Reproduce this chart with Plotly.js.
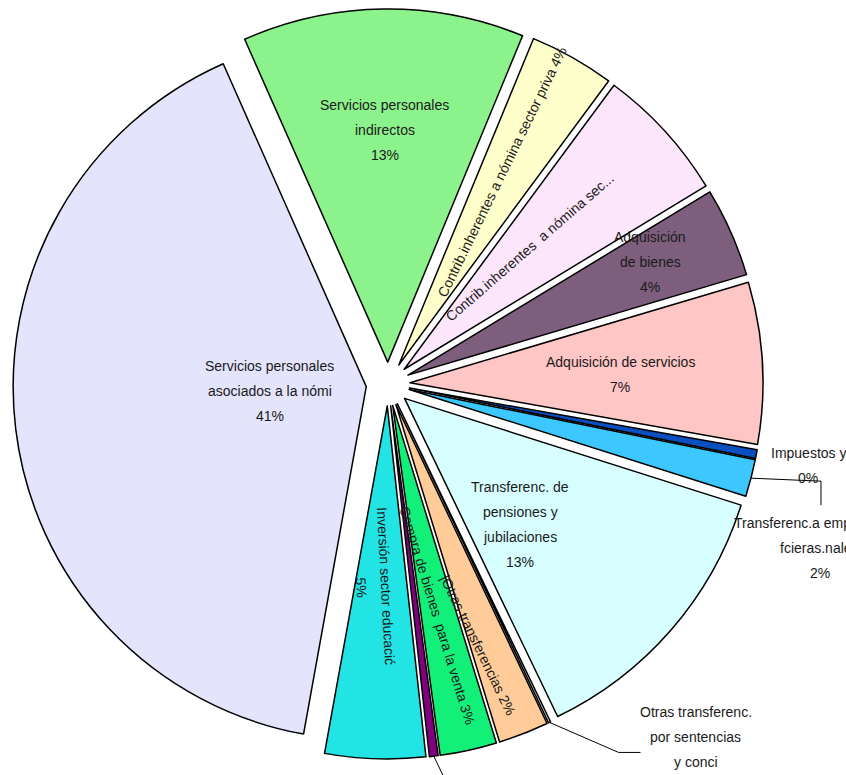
<!DOCTYPE html>
<html>
<head>
<meta charset="utf-8">
<script src="https://cdn.plot.ly/plotly-3.0.1.min.js"></script>
<style>
  html, body { margin: 0; padding: 0; background: #ffffff; }
  #chart { width: 846px; height: 775px; }
</style>
</head>
<body>
<div id="chart"></div>
<script>
// ---------------- DATA ----------------
const categories = [
  "Servicios personales indirectos",
  "Contrib.inherentes a nómina sector priva",
  "Contrib.inherentes a nómina sec...",
  "Adquisición de bienes",
  "Adquisición de servicios",
  "Impuestos y",
  "Transferenc.a empresas no fcieras.nales",
  "Transferenc. de pensiones y jubilaciones",
  "Otras transferenc. por sentencias y conci",
  "Otras transferencias",
  "Compra de bienes para la venta",
  "Otros",
  "Inversión sector educación",
  "Servicios personales asociados a la nómi"
];
const values = [12.9, 3.9, 6.2, 4.1, 7.4, 0.4, 1.7, 13.0, 0.1, 2.3, 2.6, 0.4, 4.6, 40.6];

// Text shown on the chart for each slice (lines)
const labelLines = [
  ["Servicios personales", "indirectos"],
  ["Contrib.inherentes a nómina sector priva"],
  ["Contrib.inherentes\u00a0 a nómina sec..."],
  ["Adquisición", "de bienes"],
  ["Adquisición de servicios"],
  ["Impuestos y"],
  ["Transferenc.a empresas no", "fcieras.nales"],
  ["Transferenc. de", "pensiones y", "jubilaciones"],
  ["Otras transferenc.", "por sentencias", "y conci"],
  ["|Otras transferencias"],
  ["Compra de bienes\u00a0 para la venta"],
  [],
  ["Inversión sector educacić"],
  ["Servicios personales", "asociados a la nómi"]
];

// ---------------- STYLE ----------------
const colors = ["#8cf28c", "#ffffcc", "#fbe6fb", "#7d5f7d", "#ffc6c6", "#0a4fc0",
                "#3cc8ff", "#d8ffff", "#ffffff", "#ffcc99", "#12f07a", "#800080",
                "#22e4e4", "#e4e4fc"];

// label placement: pct = where the percent goes; dist = fraction of radius from centre;
// dAng = angle offset from slice bisector; rot = text angle; off/leader for outside labels
const labelStyle = [
  {mode: "in",  pct: "line",   dist: 0.72,  dAng: 0,    rot: 0},
  {mode: "in",  pct: "inline", dist: 0.682, dAng: -1.2, rot: -64},
  {mode: "in",  pct: "none",   dist: 0.559, dAng: -1.6, rot: -41},
  {mode: "in",  pct: "line",   dist: 0.819, dAng: -1.1, rot: 0},
  {mode: "in",  pct: "line",   dist: 0.658, dAng: 1,    rot: 0},
  {mode: "out", pct: "line",   off: [52, 11]},
  {mode: "out", pct: "line",   off: [69, 70], leader: [[70, 3], [70, 27]]},
  {mode: "in",  pct: "line",   dist: 0.547, dAng: 5.9,  rot: 0},
  {mode: "out", pct: "none",   off: [146, 15], leader: [[69, 30], [91, 30]]},
  {mode: "in",  pct: "inline", dist: 0.782, dAng: 2.2,  rot: 64},
  {mode: "in",  pct: "inline", dist: 0.669, dAng: 0.4,  rot: 73},
  {mode: "none", leader: [[12, 25]]},
  {mode: "in",  pct: "line",   dist: 0.577, dAng: 2,    rot: 87},
  {mode: "in",  pct: "line",   dist: 0.335, dAng: 3.4,  rot: 0}
];

const W = 846, H = 775;
const domainX = [13 / W, 763 / W];
const domainY = [16 / H, 766 / H];
const PULL = 0.062;
const ROTATION = -23.9;
const FONT = "'Liberation Sans Narrow', 'Arial Narrow', 'Liberation Sans', Arial, sans-serif";
const FONT_SIZE = 14;
const LINE_H = 25;

// geometry mirroring Plotly's pie layout
const boxW = W * (domainX[1] - domainX[0]);
const boxH = H * (domainY[1] - domainY[0]);
const R = Math.min(boxW, boxH) / (2 + 2 * PULL);
const CX = W * (domainX[0] + domainX[1]) / 2;
const CY = H * (1 - domainY[0]) - boxH / 2;
const total = values.reduce((a, b) => a + b, 0);

let cum = 0;
const mids = values.map(v => {
  const a0 = ROTATION + 360 * cum / total;
  cum += v;
  const a1 = ROTATION + 360 * cum / total;
  return (a0 + a1) / 2;
});
function pt(angDeg, dist) {
  const a = angDeg * Math.PI / 180;
  return [CX + dist * Math.sin(a), CY - dist * Math.cos(a)];
}
const toPaper = p => [p[0] / W, 1 - p[1] / H];

const annotations = [];
const shapes = [];

values.forEach((v, i) => {
  const st = labelStyle[i];
  const pctText = Math.round(v / total * 100) + "%";
  let lines = labelLines[i].slice();
  if (st.pct === "line") lines.push(pctText);
  else if (st.pct === "inline" && lines.length) lines[lines.length - 1] += " " + pctText;

  const outer = pt(mids[i], R * (1 + PULL));
  let centre, rot = 0;
  if (st.mode === "in") {
    centre = pt(mids[i] + st.dAng, R * st.dist);
    rot = st.rot;
  } else if (st.mode === "out") {
    centre = [outer[0] + st.off[0], outer[1] + st.off[1]];
  }
  if (st.leader) {
    const pts = [outer].concat(st.leader.map(o => [outer[0] + o[0], outer[1] + o[1]]));
    const path = pts.map((p, k) => (k ? "L" : "M") + toPaper(p).join(",")).join(" ");
    shapes.push({type: "path", path: path, xref: "paper", yref: "paper",
                 line: {color: "#000000", width: 1}});
  }
  if (!centre) return;
  const t = rot * Math.PI / 180;
  const n = lines.length;
  lines.forEach((txt, j) => {
    const o = (j - (n - 1) / 2) * LINE_H;
    const p = [centre[0] - o * Math.sin(t), centre[1] + o * Math.cos(t)];
    const pp = toPaper(p);
    annotations.push({
      x: pp[0], y: pp[1], xref: "paper", yref: "paper",
      xanchor: "center", yanchor: "middle",
      text: txt, showarrow: false, textangle: rot,
      font: {family: FONT, size: FONT_SIZE, color: "#1a1a1a"}
    });
  });
});

const trace = {
  type: "pie",
  labels: categories,
  values: values,
  sort: false,
  direction: "clockwise",
  rotation: ROTATION,
  pull: values.map(() => PULL),
  marker: {colors: colors, line: {color: "#000000", width: 1.5}},
  textinfo: "none",
  hoverinfo: "label+percent",
  domain: {x: domainX, y: domainY},
  showlegend: false
};

const layout = {
  width: W, height: H,
  margin: {l: 0, r: 0, t: 0, b: 0},
  paper_bgcolor: "#ffffff",
  showlegend: false,
  annotations: annotations,
  shapes: shapes
};

Plotly.newPlot("chart", [trace], layout, {displayModeBar: false, staticPlot: true});
</script>
</body>
</html>
